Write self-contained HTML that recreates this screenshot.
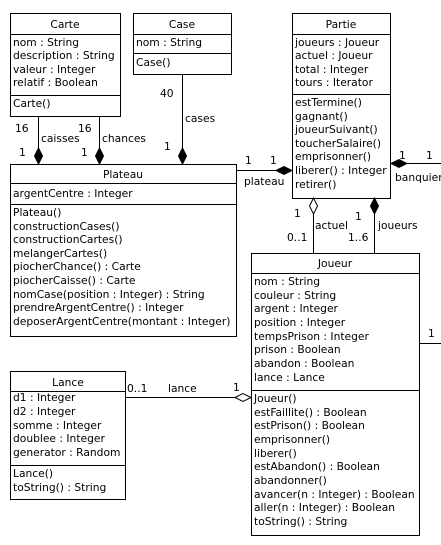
<!DOCTYPE html>
<html><head><meta charset="utf-8"><style>
html,body{margin:0;padding:0;background:#fff;}
svg{display:block;}
text{font-family:"DejaVu Sans","Liberation Sans",sans-serif;font-size:10.7px;fill:#000;}
</style></head><body>
<svg width="441" height="545" viewBox="0 0 441 545" xmlns="http://www.w3.org/2000/svg">
<g fill="#fff" stroke="#000" stroke-width="1">
<rect x="10.5" y="13.5" width="110" height="103"/>
<line x1="10" y1="34.5" x2="121" y2="34.5"/><line x1="10" y1="95.5" x2="121" y2="95.5"/>
<rect x="133.5" y="13.5" width="98" height="61"/>
<line x1="133" y1="34.5" x2="232" y2="34.5"/><line x1="133" y1="53.5" x2="232" y2="53.5"/>
<rect x="292.5" y="13.5" width="98" height="185"/>
<line x1="292" y1="34.5" x2="391" y2="34.5"/><line x1="292" y1="94.5" x2="391" y2="94.5"/>
<rect x="10.5" y="164.5" width="226" height="172"/>
<line x1="10" y1="183.5" x2="237" y2="183.5"/><line x1="10" y1="204.5" x2="237" y2="204.5"/>
<rect x="251.5" y="253.5" width="168" height="282"/>
<line x1="251" y1="273.5" x2="420" y2="273.5"/><line x1="251" y1="390.5" x2="420" y2="390.5"/>
<rect x="10.5" y="371.5" width="115" height="128"/>
<line x1="10" y1="391.5" x2="126" y2="391.5"/><line x1="10" y1="465.5" x2="126" y2="465.5"/>
</g>
<g stroke="#000" stroke-width="1" fill="none">
<line x1="38.5" y1="116" x2="38.5" y2="150"/>
<line x1="99.5" y1="116" x2="99.5" y2="150"/>
<line x1="182.5" y1="74" x2="182.5" y2="150"/>
<line x1="237" y1="170.5" x2="278" y2="170.5"/>
<line x1="405" y1="163.5" x2="441" y2="163.5"/>
<line x1="313.5" y1="213" x2="313.5" y2="253"/>
<line x1="374.5" y1="213" x2="374.5" y2="253"/>
<line x1="420" y1="343.5" x2="441" y2="343.5"/>
<line x1="125" y1="397.5" x2="236" y2="397.5"/>
</g>
<g fill="#000" stroke="#000">
<polygon points="38.5,148 42.5,156 38.5,164 34.5,156"/>
<polygon points="99.5,148 103.5,156 99.5,164 95.5,156"/>
<polygon points="182.5,148 186.5,156 182.5,164 178.5,156"/>
<polygon points="276,170.5 284,166.5 292,170.5 284,174.5"/>
<polygon points="391,163.5 399,159.5 407,163.5 399,167.5"/>
<polygon points="374.5,198 378.5,206 374.5,214 370.5,206"/>
</g>
<g fill="#fff" stroke="#000">
<polygon points="313.5,198 317.5,206 313.5,214 309.5,206"/>
<polygon points="235,397.5 243,393.5 251,397.5 243,401.5"/>
</g>
<g text-anchor="middle">
<text x="65" y="28">Carte</text>
<text x="182" y="28">Case</text>
<text x="341" y="28">Partie</text>
<text x="123" y="178">Plateau</text>
<text x="335" y="267">Joueur</text>
<text x="68" y="386">Lance</text>
</g>
<text x="13" y="46">nom : String</text>
<text x="13" y="59">description : String</text>
<text x="13" y="73">valeur : Integer</text>
<text x="13" y="86">relatif : Boolean</text>
<text x="13" y="107">Carte()</text>
<text x="136" y="46">nom : String</text>
<text x="136" y="66">Case()</text>
<text x="295" y="46">joueurs : Joueur</text>
<text x="295" y="59">actuel : Joueur</text>
<text x="295" y="73">total : Integer</text>
<text x="295" y="86">tours : Iterator</text>
<text x="295" y="106">estTermine()</text>
<text x="295" y="120">gagnant()</text>
<text x="295" y="133">joueurSuivant()</text>
<text x="295" y="147">toucherSalaire()</text>
<text x="295" y="160">emprisonner()</text>
<text x="295" y="174">liberer() : Integer</text>
<text x="295" y="188">retirer()</text>
<text x="13" y="197">argentCentre : Integer</text>
<text x="13" y="216">Plateau()</text>
<text x="13" y="230">constructionCases()</text>
<text x="13" y="243">constructionCartes()</text>
<text x="13" y="257">melangerCartes()</text>
<text x="13" y="270">piocherChance() : Carte</text>
<text x="13" y="284">piocherCaisse() : Carte</text>
<text x="13" y="298">nomCase(position : Integer) : String</text>
<text x="13" y="311">prendreArgentCentre() : Integer</text>
<text x="13" y="325">deposerArgentCentre(montant : Integer)</text>
<text x="254" y="285">nom : String</text>
<text x="254" y="299">couleur : String</text>
<text x="254" y="312">argent : Integer</text>
<text x="254" y="326">position : Integer</text>
<text x="254" y="340">tempsPrison : Integer</text>
<text x="254" y="353">prison : Boolean</text>
<text x="254" y="367">abandon : Boolean</text>
<text x="254" y="381">lance : Lance</text>
<text x="254" y="402">Joueur()</text>
<text x="254" y="416">estFaillite() : Boolean</text>
<text x="254" y="429">estPrison() : Boolean</text>
<text x="254" y="443">emprisonner()</text>
<text x="254" y="457">liberer()</text>
<text x="254" y="470">estAbandon() : Boolean</text>
<text x="254" y="484">abandonner()</text>
<text x="254" y="498">avancer(n : Integer) : Boolean</text>
<text x="254" y="511">aller(n : Integer) : Boolean</text>
<text x="254" y="525">toString() : String</text>
<text x="13" y="401">d1 : Integer</text>
<text x="13" y="415">d2 : Integer</text>
<text x="13" y="429">somme : Integer</text>
<text x="13" y="442">doublee : Integer</text>
<text x="13" y="456">generator : Random</text>
<text x="13" y="477">Lance()</text>
<text x="13" y="491">toString() : String</text>
<text x="15" y="132">16</text><text x="41" y="142">caisses</text><text x="19" y="156">1</text>
<text x="78" y="132">16</text><text x="102" y="142">chances</text><text x="81" y="156">1</text>
<text x="160" y="97">40</text><text x="185" y="122">cases</text><text x="164" y="150">1</text>
<text x="245" y="164">1</text><text x="270" y="164">1</text><text x="244" y="185">plateau</text>
<text x="399" y="159">1</text><text x="426" y="159">1</text><text x="395" y="181">banquier</text>
<text x="294" y="217">1</text><text x="315" y="229">actuel</text><text x="287" y="241">0..1</text>
<text x="355" y="220">1</text><text x="378" y="229">joueurs</text><text x="348" y="241">1..6</text>
<text x="428" y="337">1</text>
<text x="127" y="392">0..1</text><text x="168" y="392">lance</text><text x="233" y="391">1</text>
</svg>
</body></html>
